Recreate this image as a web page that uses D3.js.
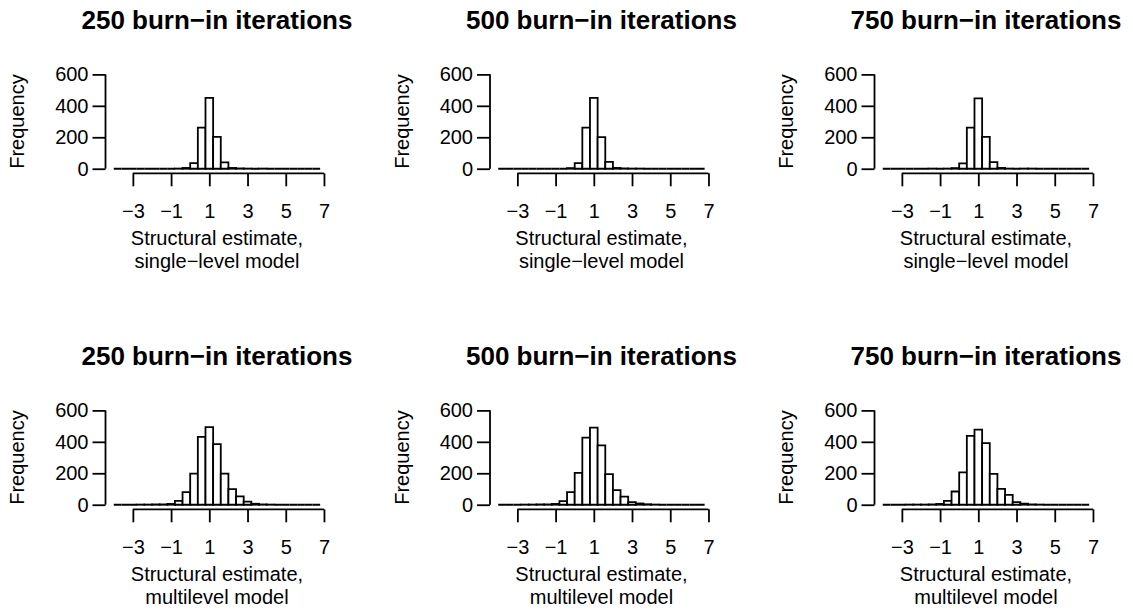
<!DOCTYPE html>
<html>
<head>
<meta charset="utf-8">
<script src="https://cdn.jsdelivr.net/npm/d3@7"></script>
<style>
  html, body { margin: 0; padding: 0; background: #fff; }
  svg text { font-family: "Liberation Sans", Arial, Helvetica, sans-serif; fill: #000; }
</style>
</head>
<body>
<svg id="chart" width="1133" height="613"></svg>
<script>
// ---------------- data ----------------
const binEdges = [-4.0,-3.6,-3.2,-2.8,-2.4,-2.0,-1.6,-1.2,-0.8,-0.4,0.0,0.4,0.8,1.2,1.6,2.0,2.4,2.8,3.2,3.6,4.0,4.4,4.8,5.2,5.6,6.0,6.4,6.8];

const single250 = [0,0,0,0,0,0,0,0,1,5,35,262,450,202,40,5,2,1,0,1,0,0,0,0,0,0,0];
const single500 = [0,0,0,0,0,0,0,0,0,4,36,261,451,201,44,5,2,1,1,0,0,0,0,0,0,0,0];
const single750 = [0,0,0,0,0,0,1,0,1,4,34,262,447,203,42,5,1,0,1,1,0,0,0,0,0,0,0];
const multi250  = [0,0,0,1,1,2,2,5,25,80,198,431,493,386,198,99,53,20,6,2,1,0,0,0,0,0,0];
const multi500  = [0,0,0,1,1,2,2,5,23,80,203,427,490,378,194,93,51,17,8,3,1,0,0,0,0,0,0];
const multi750  = [0,0,0,1,1,1,2,5,25,84,206,438,478,392,196,101,63,17,7,2,1,0,0,0,0,0,0];

const panelTitles = ["250 burn\u2212in iterations", "500 burn\u2212in iterations", "750 burn\u2212in iterations"];
const xLabelSingle = ["Structural estimate,", "single\u2212level model"];
const xLabelMulti  = ["Structural estimate,", "multilevel model"];
const yLabel = "Frequency";
const xTicks = [-3, -1, 1, 3, 5, 7];
const yTicks = [0, 200, 400, 600];

const panels = [
  { row: 0, col: 0, counts: single250, title: panelTitles[0], xlab: xLabelSingle },
  { row: 0, col: 1, counts: single500, title: panelTitles[1], xlab: xLabelSingle },
  { row: 0, col: 2, counts: single750, title: panelTitles[2], xlab: xLabelSingle },
  { row: 1, col: 0, counts: multi250,  title: panelTitles[0], xlab: xLabelMulti },
  { row: 1, col: 1, counts: multi500,  title: panelTitles[1], xlab: xLabelMulti },
  { row: 1, col: 2, counts: multi750,  title: panelTitles[2], xlab: xLabelMulti }
];

// ---------------- layout ----------------
const colStep = 384.5, rowStep = 336;
const plotLeft = 105.5, plotRight = 328.4;
const plotTop = 70.6, plotBottom = 172.5;
const fs = 20, fsTitle = 26;
const lw = 1.8;

const svg = d3.select("#chart");
const minus = v => (v < 0 ? "\u2212" + Math.abs(v) : String(v));

panels.forEach(p => {
  const ox = p.col * colStep, oy = p.row * rowStep;
  const x = d3.scaleLinear().domain([-4.432, 7.232]).range([plotLeft + ox, plotRight + ox]);
  const y = d3.scaleLinear().domain([-24, 624]).range([plotBottom + oy, plotTop + oy]);
  const g = svg.append("g");

  const bins = p.counts.map((c, i) => ({ x0: binEdges[i], x1: binEdges[i + 1], c }));
  g.selectAll("path.bar").data(bins).enter().append("path")
    .attr("class", "bar")
    .attr("d", d => `M${x(d.x0)},${y(0)}V${y(d.c)}H${x(d.x1)}V${y(0)}Z`)
    .attr("fill", "#fff")
    .attr("stroke", "#000")
    .attr("stroke-width", lw)
    .attr("stroke-linejoin", "miter");

  const xa = g.append("g").attr("transform", `translate(0,${plotBottom + oy + 0.8})`)
    .call(d3.axisBottom(x).tickValues(xTicks).tickSizeOuter(0).tickSize(13).tickPadding(18).tickFormat(minus));
  const ya = g.append("g").attr("transform", `translate(${plotLeft + ox},0)`)
    .call(d3.axisLeft(y).tickValues(yTicks).tickSizeOuter(0).tickSize(13).tickPadding(4));

  [xa, ya].forEach(a => {
    a.select(".domain").attr("stroke-width", lw);
    a.selectAll(".tick line").attr("stroke-width", lw);
    a.selectAll(".tick text").attr("font-size", fs).attr("font-family", "Liberation Sans, Arial, sans-serif");
  });
  xa.select(".domain").attr("d", `M${x(xTicks[0])},0H${x(xTicks[xTicks.length - 1])}`);
  ya.select(".domain").attr("d", `M0,${y(yTicks[0])}V${y(yTicks[yTicks.length - 1])}`);

  const cx = (plotLeft + plotRight) / 2 + ox;
  g.append("text").attr("x", cx).attr("y", 28.5 + oy)
    .attr("text-anchor", "middle").attr("font-size", fsTitle).attr("font-weight", "bold")
    .text(p.title);
  g.append("text").attr("x", cx).attr("y", 244.5 + oy)
    .attr("text-anchor", "middle").attr("font-size", fs).text(p.xlab[0]);
  g.append("text").attr("x", cx).attr("y", 267.5 + oy)
    .attr("text-anchor", "middle").attr("font-size", fs).text(p.xlab[1]);
  const ly = (plotTop + plotBottom) / 2 + oy;
  g.append("text").attr("transform", `translate(${24 + ox},${ly}) rotate(-90)`)
    .attr("text-anchor", "middle").attr("font-size", fs).text(yLabel);
});
</script>
</body>
</html>
